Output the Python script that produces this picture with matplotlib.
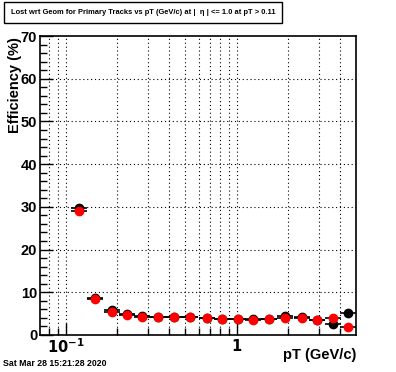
import numpy as np
import matplotlib
matplotlib.use("Agg")
import matplotlib.pyplot as plt
from matplotlib.ticker import FixedLocator, NullFormatter, FuncFormatter

# Data
pt = [0.1195, 0.1477, 0.1849, 0.2280, 0.2792, 0.3466, 0.4296, 0.5332, 0.6650,
      0.8205, 1.0177, 1.2456, 1.5451, 1.917, 2.389, 2.949, 3.66, 4.46]
eff_black = [29.8, 8.7, 5.85, 4.8, 4.5, 4.25, 4.1, 4.1, 4.0,
             3.8, 3.8, 3.65, 3.8, 4.45, 4.2, 3.6, 2.5, 5.2]
eff_red = [29.1, 8.35, 5.3, 4.6, 4.3, 4.1, 4.1, 4.1, 4.0,
           3.75, 3.75, 3.6, 3.75, 4.05, 4.05, 3.5, 4.0, 1.9]
yerr_black = [0.3, 0.3, 0.3, 0.2, 0.2, 0.2, 0.2, 0.2, 0.2,
              0.2, 0.2, 0.2, 0.2, 0.3, 0.3, 0.3, 0.5, 1.0]
yerr_red = [0.3, 0.3, 0.3, 0.2, 0.2, 0.2, 0.2, 0.2, 0.2,
            0.2, 0.2, 0.2, 0.2, 0.3, 0.3, 0.3, 0.5, 0.8]
log_halfwidth = 0.047

title = "Lost wrt Geom for Primary Tracks vs pT (GeV/c) at |  \u03b7 | <= 1.0 at pT > 0.11"
datestr = "Sat Mar 28 15:21:28 2020"

plt.rcParams['font.family'] = ['Liberation Sans', 'DejaVu Sans']

W, H = 396, 372
fig = plt.figure(figsize=(W / 100, H / 100), dpi=100)
ax = fig.add_axes([40 / W, 1 - 335 / H, (356 - 40) / W, (335 - 36) / H])

x = np.array(pt)
xlo = x - x * 10 ** (-log_halfwidth)
xhi = x * 10 ** (log_halfwidth) - x

ax.errorbar(x, eff_black, xerr=[xlo, xhi], yerr=yerr_black, fmt='o', color='black',
            ms=6, mec='black', mfc='black', elinewidth=1.2, capsize=0, zorder=3)
ax.errorbar(x, eff_red, xerr=[xlo, xhi], yerr=yerr_red, fmt='o', color='black',
            ms=6, mec='red', mfc='red', elinewidth=1.2, capsize=0, zorder=4)

ax.set_xscale('log')
ax.set_xlim(0.0705, 4.97)
ax.set_ylim(0, 70)

major_x = [0.1, 1]
minor_x = [0.08, 0.09, 0.2, 0.3, 0.4, 0.5, 0.6, 0.7, 0.8, 0.9, 2, 3, 4]
ax.xaxis.set_major_locator(FixedLocator(major_x))
ax.xaxis.set_minor_locator(FixedLocator(minor_x))
ax.xaxis.set_minor_formatter(NullFormatter())
ax.xaxis.set_major_formatter(FuncFormatter(
    lambda v, p: r'$\mathbf{10^{-1}}$' if abs(v - 0.1) < 1e-9 else r'$\mathbf{1}$'))

ax.yaxis.set_major_locator(FixedLocator(np.arange(0, 71, 10)))
ax.yaxis.set_minor_locator(FixedLocator(np.arange(0, 71, 2)))

for v in minor_x + major_x:
    ax.axvline(v, color='black', ls=(0, (1, 2.5)), lw=0.8, zorder=1)
for v in range(10, 70, 10):
    ax.axhline(v, color='black', ls=(0, (1, 2.5)), lw=0.8, zorder=1)

ax.tick_params(axis='both', which='major', direction='in', length=9, width=1,
               labelsize=10.5, top=False, right=False)
ax.tick_params(axis='both', which='minor', direction='in', length=5, width=1,
               top=False, right=False)
ax.tick_params(axis='x', which='major', pad=2)
ax.tick_params(axis='y', which='major', pad=2)
for lab in ax.get_yticklabels():
    lab.set_fontweight('bold')
for s in ax.spines.values():
    s.set_linewidth(1.2)

fig.text(15 / W, 1 - 37 / H, 'Efficiency (%)', rotation=90, ha='center', va='top',
         fontsize=10.5, fontweight='bold')
fig.text(356 / W, 1 - 355 / H, 'pT (GeV/c)', ha='right', va='center',
         fontsize=10.5, fontweight='bold')

# title box
fig.patches.append(plt.Rectangle((4 / W, 1 - 22.7 / H), (282 - 4) / W, 21 / H,
                                 transform=fig.transFigure, fill=False,
                                 edgecolor='black', lw=1))
fig.text(143 / W, 1 - 12.5 / H, title, ha='center', va='center', fontsize=5.4,
         fontweight='bold')
fig.text(3 / W, 1 - 364 / H, datestr, ha='left', va='center', fontsize=6.3,
         fontweight='bold')

fig.savefig('out.png', dpi=100)
